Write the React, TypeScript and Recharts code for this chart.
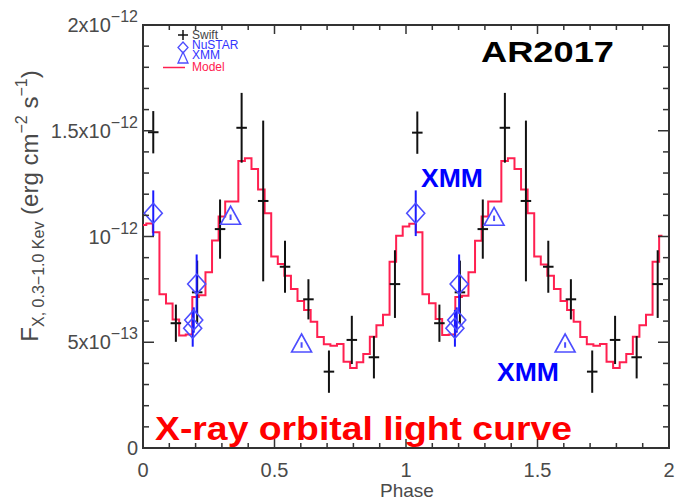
import React from 'react';
import { ComposedChart, Line, Scatter, XAxis, YAxis, ErrorBar, ReferenceArea } from 'recharts';

// Flux values are in units of 1e-12 erg cm^-2 s^-1
const modelPhase = [
  0, 0.025, 0.05, 0.075, 0.1, 0.125, 0.15, 0.175, 0.2, 0.225,
  0.25, 0.275, 0.3, 0.325, 0.35, 0.375, 0.4, 0.425, 0.45, 0.475,
  0.5, 0.525, 0.55, 0.575, 0.6, 0.625, 0.65, 0.675, 0.7, 0.725,
  0.75, 0.775, 0.8, 0.825, 0.85, 0.875, 0.9, 0.925, 0.95, 0.975,
  1.0, 1.025, 1.05, 1.075, 1.1, 1.125, 1.15, 1.175, 1.2, 1.225,
  1.25, 1.275, 1.3, 1.325, 1.35, 1.375, 1.4, 1.425, 1.45, 1.475,
  1.5, 1.525, 1.55, 1.575, 1.6, 1.625, 1.65, 1.675, 1.7, 1.725,
  1.75, 1.775, 1.8, 1.825, 1.85, 1.875, 1.9, 1.925, 1.95, 1.975,
];
const modelFlux = [
  1.054, 1.062, 1.02, 0.727, 0.683, 0.608, 0.532, 0.537, 0.714, 0.722,
  0.831, 0.981, 1.094, 1.165, 1.165, 1.357, 1.37, 1.319, 1.222, 1.11,
  0.906, 0.87, 0.815, 0.752, 0.695, 0.652, 0.597, 0.525, 0.49, 0.484,
  0.492, 0.408, 0.378, 0.405, 0.445, 0.526, 0.58, 0.63, 0.881, 1.003,
  1.047, 1.06, 1.02, 0.727, 0.684, 0.61, 0.534, 0.537, 0.714, 0.72,
  0.831, 0.98, 1.094, 1.165, 1.165, 1.357, 1.37, 1.319, 1.222, 1.11,
  0.906, 0.868, 0.815, 0.752, 0.695, 0.652, 0.597, 0.525, 0.49, 0.484,
  0.492, 0.408, 0.378, 0.405, 0.445, 0.526, 0.58, 0.63, 0.881, 1.003,
];

const swiftPhase = [0.039, 0.125, 0.206, 0.293, 0.375, 0.457, 0.54, 0.629, 0.707, 0.794, 0.878, 0.958,
  1.043, 1.127, 1.205, 1.292, 1.376, 1.456, 1.541, 1.627, 1.708, 1.795, 1.877, 1.957];
const swiftFlux = [1.493, 0.59, 0.736, 1.035, 1.514, 1.168, 0.857, 0.703, 0.361, 0.511, 0.429, 0.775,
  1.491, 0.59, 0.736, 1.035, 1.514, 1.168, 0.857, 0.703, 0.361, 0.511, 0.429, 0.775];
const swiftErr = [0.1, 0.088, 0.15, 0.14, 0.165, 0.38, 0.123, 0.095, 0.1, 0.114, 0.1, 0.16,
  0.1, 0.088, 0.15, 0.14, 0.165, 0.38, 0.123, 0.095, 0.1, 0.114, 0.1, 0.16];
const swiftPhaseErr = [0.02, 0.02, 0.02, 0.02, 0.02, 0.02, 0.02, 0.02, 0.02, 0.02, 0.02, 0.02,
  0.02, 0.02, 0.02, 0.02, 0.02, 0.02, 0.02, 0.02, 0.02, 0.02, 0.02, 0.02];

const nustarPhase = [0.039, 0.204, 0.193, 0.189, 1.037, 1.202, 1.193, 1.186];
const nustarFlux = [1.11, 0.775, 0.605, 0.566, 1.11, 0.775, 0.605, 0.566];
const nustarErr = [0.108, 0.14, 0.06, 0.087, 0.108, 0.14, 0.06, 0.087];

const xmmPhase = [0.333, 0.603, 1.335, 1.605];
const xmmFlux = [1.091, 0.487, 1.086, 0.487];
const xmmErr = [0.013, 0.013, 0.013, 0.013];

const xTicks = [0, 0.1, 0.2, 0.3, 0.4, 0.5, 0.6, 0.7, 0.8, 0.9, 1.0, 1.1, 1.2, 1.3, 1.4, 1.5, 1.6, 1.7, 1.8, 1.9, 2.0];
const xMajorTicks = [0, 0.5, 1, 1.5, 2];
const xTickLabels = ['0', '0.5', '1', '1.5', '2'];

const yTicks = [0, 0.1, 0.2, 0.3, 0.4, 0.5, 0.6, 0.7, 0.8, 0.9, 1.0, 1.1, 1.2, 1.3, 1.4, 1.5, 1.6, 1.7, 1.8, 1.9, 2.0];
const yMajorTicks = [0, 0.5, 1, 1.5, 2];
const yTickMantissa = ['0', '5x10', '10', '1.5x10', '2x10'];
const yTickExponent = ['', '\u221213', '\u221212', '\u221212', '\u221212'];

const modelData = modelPhase.map((p, i) => ({ phase: p, flux: modelFlux[i] }));
const swiftData = swiftPhase.map((p, i) => ({ phase: p, flux: swiftFlux[i], err: swiftErr[i], xerr: swiftPhaseErr[i] }));
const nustarData = nustarPhase.map((p, i) => ({ phase: p, flux: nustarFlux[i], err: nustarErr[i] }));
const xmmData = xmmPhase.map((p, i) => ({ phase: p, flux: xmmFlux[i], err: xmmErr[i] }));

const W = 676;
const H = 502;
const PLOT_TOP = 25;
const PLOT_RIGHT = 669;
const AXIS_COLOR = '#333333';
const TEXT_COLOR = '#4a4a4a';
const FONT = '"Liberation Sans", Arial, Helvetica, sans-serif';
const RED = '#ff2050';
const BLUE_MARK = '#4d4dff';
const BLUE_BAR = '#1a1aff';

const findIdx = (arr: number[], v: number) => arr.findIndex((t) => Math.abs(t - v) < 1e-6);

const XTick = (props: any) => {
  const { x, y, payload } = props;
  const idx = findIdx(xMajorTicks, payload.value);
  const len = idx >= 0 ? 9 : 5;
  return (
    <g>
      <line x1={x} x2={x} y1={y} y2={y - len} stroke={AXIS_COLOR} strokeWidth={1.5} />
      <line x1={x} x2={x} y1={PLOT_TOP} y2={PLOT_TOP + len} stroke={AXIS_COLOR} strokeWidth={1.5} />
      {idx >= 0 && (
        <text x={x} y={y + 29} textAnchor="middle" fontSize={20} fill={TEXT_COLOR} fontFamily={FONT}>
          {xTickLabels[idx]}
        </text>
      )}
    </g>
  );
};

const YTick = (props: any) => {
  const { x, y, payload } = props;
  const idx = findIdx(yMajorTicks, payload.value);
  const len = idx >= 0 ? 11 : 6;
  return (
    <g>
      <line x1={x} x2={x + len} y1={y} y2={y} stroke={AXIS_COLOR} strokeWidth={1.5} />
      <line x1={PLOT_RIGHT} x2={PLOT_RIGHT - len} y1={y} y2={y} stroke={AXIS_COLOR} strokeWidth={1.5} />
      {idx >= 0 && (
        <text x={x - 5} y={y + 7} textAnchor="end" fontSize={20} fill={TEXT_COLOR} fontFamily={FONT}>
          <tspan>{yTickMantissa[idx]}</tspan>
          {yTickExponent[idx] && (
            <tspan dy={-10} fontSize={16}>
              {yTickExponent[idx]}
            </tspan>
          )}
        </text>
      )}
    </g>
  );
};

const EmptyShape = () => <g />;

const DiamondShape = (props: any) => {
  const { cx, cy } = props;
  return (
    <polygon
      points={`${cx},${cy - 10} ${cx + 9},${cy} ${cx},${cy + 10} ${cx - 9},${cy}`}
      fill="none"
      stroke={BLUE_MARK}
      strokeWidth={1.6}
    />
  );
};

const TriangleShape = (props: any) => {
  const { cx, cy } = props;
  return (
    <polygon
      points={`${cx},${cy - 11} ${cx + 10},${cy + 7} ${cx - 10},${cy + 7}`}
      fill="none"
      stroke={BLUE_MARK}
      strokeWidth={1.6}
    />
  );
};

export default function App() {
  return (
    <div style={{ position: 'absolute', left: 0, top: 0, width: W, height: H, background: '#fff' }}>
      <ComposedChart
        width={W}
        height={H}
        margin={{ top: PLOT_TOP, right: W - PLOT_RIGHT, bottom: 0, left: 0 }}
        style={{ fontFamily: FONT }}
      >
        <XAxis
          dataKey="phase"
          type="number"
          domain={[0, 2]}
          ticks={xTicks}
          interval={0}
          height={54}
          tickSize={0}
          tickMargin={0}
          axisLine={false}
          tickLine={false}
          tick={<XTick />}
          allowDataOverflow
        />
        <YAxis
          dataKey="flux"
          type="number"
          domain={[0, 2]}
          ticks={yTicks}
          interval={0}
          width={143}
          tickSize={0}
          tickMargin={0}
          axisLine={false}
          tickLine={false}
          tick={<YTick />}
          allowDataOverflow
        />
        <ReferenceArea x1={0} x2={2} y1={0} y2={2} fill="none" fillOpacity={0} stroke={AXIS_COLOR} strokeWidth={2} />
        <Line
          data={modelData}
          dataKey="flux"
          type="step"
          stroke={RED}
          strokeWidth={2}
          dot={false}
          activeDot={false}
          isAnimationActive={false}
        />
        <Scatter data={swiftData} dataKey="flux" shape={<EmptyShape />} isAnimationActive={false}>
          <ErrorBar dataKey="err" direction="y" width={0} stroke="#111" strokeWidth={2} />
          <ErrorBar dataKey="xerr" direction="x" width={0} stroke="#111" strokeWidth={2} />
        </Scatter>
        <Scatter data={nustarData} dataKey="flux" shape={<DiamondShape />} isAnimationActive={false}>
          <ErrorBar dataKey="err" direction="y" width={0} stroke={BLUE_BAR} strokeWidth={2} />
        </Scatter>
        <Scatter data={xmmData} dataKey="flux" shape={<TriangleShape />} isAnimationActive={false}>
          <ErrorBar dataKey="err" direction="y" width={0} stroke={BLUE_MARK} strokeWidth={2} />
        </Scatter>
      </ComposedChart>
      <svg
        width={W}
        height={H}
        style={{ position: 'absolute', left: 0, top: 0, pointerEvents: 'none', fontFamily: FONT }}
      >
        {/* legend */}
        <line x1={178} x2={188} y1={35} y2={35} stroke="#111" strokeWidth={1.5} />
        <line x1={183} x2={183} y1={30} y2={40} stroke="#111" strokeWidth={1.5} />
        <text x={192} y={39} fontSize={12} fill="#444">Swift</text>
        <polygon points="183,42 188,47.5 183,53 178,47.5" fill="none" stroke={BLUE_MARK} strokeWidth={1.3} />
        <text x={192} y={49} fontSize={12} fill="#3333ff">NuSTAR</text>
        <polygon points="183,52 188,63 178,63" fill="none" stroke={BLUE_MARK} strokeWidth={1.3} />
        <text x={192} y={59} fontSize={12} fill="#3333ff">XMM</text>
        <line x1={163} x2={185} y1={67.5} y2={67.5} stroke={RED} strokeWidth={1.5} />
        <text x={192} y={71} fontSize={12} fill={RED}>Model</text>

        {/* annotations */}
        <text x={481} y={62} fontSize={30} fontWeight="bold" fill="#000" textLength={133} lengthAdjust="spacingAndGlyphs">
          AR2017
        </text>
        <text x={421} y={187} fontSize={25} fontWeight="bold" fill="#0000ff" textLength={62} lengthAdjust="spacingAndGlyphs">
          XMM
        </text>
        <text x={497} y={381} fontSize={25} fontWeight="bold" fill="#0000ff" textLength={62} lengthAdjust="spacingAndGlyphs">
          XMM
        </text>
        <text x={155} y={440} fontSize={33} fontWeight="bold" fill="#ff0000" textLength={417} lengthAdjust="spacingAndGlyphs">
          X-ray orbital light curve
        </text>

        {/* axis titles */}
        <text x={407} y={497} textAnchor="middle" fontSize={19} fill={TEXT_COLOR}>Phase</text>
        <text transform="rotate(-90)" x={-206} y={38} textAnchor="middle" fontSize={24} fill={TEXT_COLOR}>
          <tspan>F</tspan>
          <tspan fontSize={16} dy={6}>X, 0.3{'\u2212'}1.0 Kev</tspan>
          <tspan dy={-6}> (erg cm</tspan>
          <tspan fontSize={16} dy={-11}>{'\u2212'}2</tspan>
          <tspan dy={11}> s</tspan>
          <tspan fontSize={16} dy={-11}>{'\u2212'}1</tspan>
          <tspan dy={11}>)</tspan>
        </text>
      </svg>
    </div>
  );
}
